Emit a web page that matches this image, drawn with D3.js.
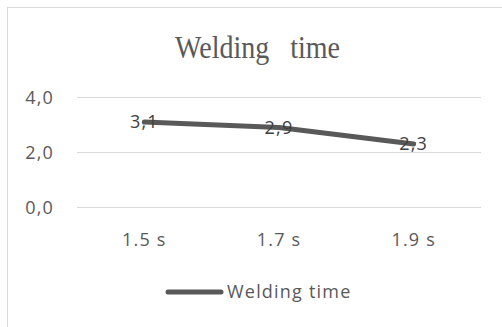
<!DOCTYPE html>
<html><head><meta charset="utf-8">
<script src="https://cdn.jsdelivr.net/npm/d3@7"></script>
<style>html,body{margin:0;padding:0;background:#fff;}svg{display:block;}</style>
</head><body>
<svg id="c" width="502" height="327"></svg>
<script>
const categories = ["1.5 s", "1.7 s", "1.9 s"];
const values = [3.1, 2.9, 2.3];
const yTicks = [0, 2, 4];
const seriesName = "Welding time";
const titleText = "Welding   time";

const svg = d3.select("#c");
const fmt = v => d3.format(".1f")(v).replace(".", ",");
const uiFont = "'Open Sans', sans-serif";

// chart border
svg.append("rect").attr("x", 7.5).attr("y", 7.5).attr("width", 502).attr("height", 330)
  .attr("fill", "#fff").attr("stroke", "#d9d9d9").attr("stroke-width", 1);

const x = d3.scaleBand().domain(categories).range([77, 481]);
const y = d3.scaleLinear().domain([0, 4]).range([207.3, 97.3]);

// title
svg.append("text").attr("x", 257.5).attr("y", 58).attr("text-anchor", "middle")
  .attr("font-family", "'Liberation Serif', 'Times New Roman', serif").attr("font-size", 32)
  .attr("fill", "#595959").attr("textLength", 165).attr("lengthAdjust", "spacingAndGlyphs")
  .style("white-space", "pre").text(titleText);

// gridlines
svg.append("g").selectAll("line").data(yTicks).join("line")
  .attr("x1", 77).attr("x2", 481)
  .attr("y1", d => Math.round(y(d)) + 0.5).attr("y2", d => Math.round(y(d)) + 0.5)
  .attr("stroke", "#d9d9d9").attr("stroke-width", 1);

// y axis labels
const yAxis = d3.axisLeft(y).tickValues(yTicks).tickFormat(fmt).tickSize(0).tickPadding(0);
const gy = svg.append("g").attr("transform", "translate(54,0)").call(yAxis);
gy.select(".domain").remove();
gy.selectAll("text").attr("font-family", uiFont).attr("font-size", 18).attr("fill", "#595959")
  .attr("letter-spacing", 1.2).attr("dy", "0.35em");

// x axis labels
const xAxis = d3.axisBottom(x).tickSize(0).tickPadding(0);
const gx = svg.append("g").attr("transform", "translate(0,232)").call(xAxis);
gx.select(".domain").remove();
gx.selectAll("text").attr("font-family", uiFont).attr("font-size", 18).attr("fill", "#595959")
  .attr("letter-spacing", 1.2).attr("dy", "0.75em");

// line
const line = d3.line().x((d, i) => x(categories[i]) + x.bandwidth() / 2).y(d => y(d));
svg.append("path").datum(values).attr("d", line).attr("fill", "none")
  .attr("stroke", "#595959").attr("stroke-width", 5)
  .attr("stroke-linecap", "round").attr("stroke-linejoin", "round");

// data labels
svg.append("g").selectAll("text").data(values).join("text")
  .attr("x", (d, i) => x(categories[i]) + x.bandwidth() / 2)
  .attr("y", d => y(d)).attr("dy", "0.35em").attr("text-anchor", "middle")
  .attr("font-family", uiFont).attr("font-size", 18).attr("fill", "#404040")
  .attr("letter-spacing", 1.2).text(fmt);

// legend
const lg = svg.append("g");
lg.append("line").attr("x1", 168).attr("x2", 221).attr("y1", 292).attr("y2", 292)
  .attr("stroke", "#595959").attr("stroke-width", 5).attr("stroke-linecap", "round");
lg.append("text").attr("x", 227).attr("y", 292).attr("dy", "0.35em")
  .attr("font-family", uiFont).attr("font-size", 18).attr("fill", "#595959")
  .attr("letter-spacing", 1.2).text(seriesName);
</script>
</body></html>
